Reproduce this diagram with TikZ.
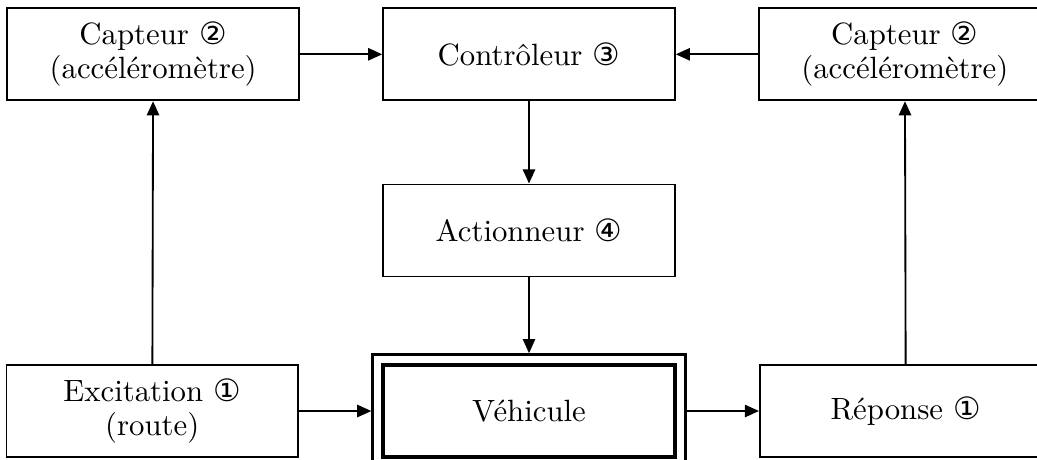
\documentclass[tikz,border=0pt]{standalone}
\usepackage{fontspec}
\newfontfamily\circfont{DejaVu Sans}
\usetikzlibrary{positioning,fit,arrows.meta}

\newcommand{\cnum}[1]{{\circfont #1}}

\begin{document}
\begin{tikzpicture}[-{Triangle[length=4.6pt,width=4pt]},line width=0.6pt,
  node distance=0.94cm,
  bloc/.style={rectangle,draw,minimum width=3.33cm,minimum height=1.05cm,
    align=center,inner sep=2pt}]

  \useasboundingbox (0,0) rectangle (11.84,-5.25);

  \node[bloc] (ctrl) at (6.04,-0.62) {Contrôleur \cnum{③}};
  \node[bloc] (capg) [left=of ctrl] {Capteur \cnum{②}\\[-1pt](accéléromètre)};
  \node[bloc] (capd) [right=of ctrl] {Capteur \cnum{②}\\[-1pt](accéléromètre)};
  \node[bloc] (act) [below=of ctrl] {Actionneur \cnum{④}};
  \node[bloc,line width=1.2pt] (veh) [below=0.98cm of act] {Véhicule};
  \node[draw,line width=0.8pt,fit=(veh),inner sep=0.1cm] (vehout) {};
  \node[bloc] (exc) [left=of veh] {Excitation \cnum{①}\\[-1pt](route)};
  \node[bloc] (rep) [right=of veh] {Réponse \cnum{①}};

  \path
  (capg) edge (ctrl)
  (capd) edge (ctrl)
  (ctrl) edge (act)
  (act) edge (vehout)
  (exc) edge (vehout)
  (vehout) edge (rep)
  (exc) edge (capg)
  (rep) edge (capd)
  ;

\end{tikzpicture}
\end{document}
